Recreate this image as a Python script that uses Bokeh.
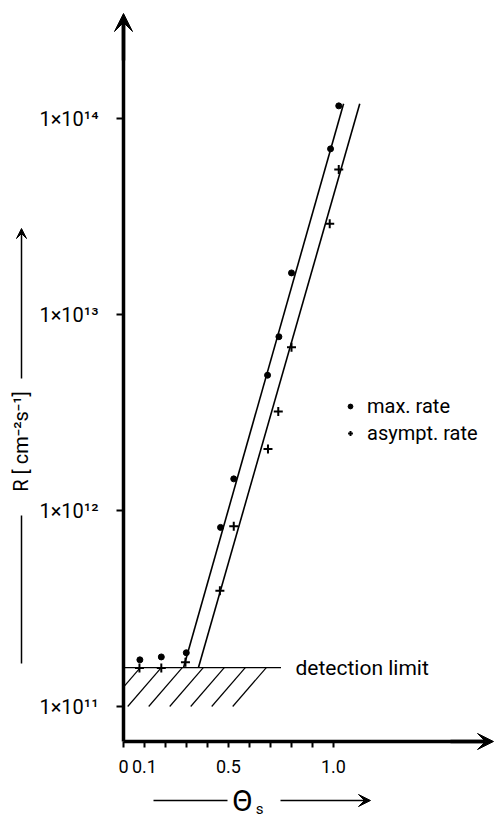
from math import pi

from bokeh.embed import file_html
from bokeh.models import (Arrow, FixedTicker, Label, Legend, LegendItem,
                          Range1d, VeeHead)
from bokeh.plotting import figure
from bokeh.resources import INLINE

# Reaction rate R versus surface coverage theta_s
theta_max = [0.078, 0.18, 0.299, 0.462, 0.525, 0.686, 0.74, 0.80, 0.986, 1.025]
rate_max = [1.73e11, 1.79e11, 1.88e11, 8.2e11, 1.45e12, 4.9e12, 7.7e12, 1.63e13, 7.0e13, 1.16e14]

theta_asym = [0.076, 0.18, 0.295, 0.459, 0.525, 0.688, 0.737, 0.80, 0.982, 1.025]
rate_asym = [1.57e11, 1.57e11, 1.68e11, 3.9e11, 8.3e11, 2.06e12, 3.2e12, 6.8e12, 2.9e13, 5.5e13]

# straight-line fits (log scale) starting at the detection limit
fit_theta_max = [0.286, 1.048]
fit_rate_max = [1.58e11, 1.19e14]
fit_theta_asym = [0.357, 1.125]
fit_rate_asym = [1.58e11, 1.19e14]

detection_limit = 1.58e11
detection_theta = [0.0, 0.75]
hatch_floor = 1e11

x_ticks = [0, 0.1, 0.2, 0.3, 0.4, 0.5, 0.6, 0.7, 0.8, 0.9, 1.0]
x_tick_labels = {0: "0", 0.1: "0.1", 0.2: "", 0.3: "", 0.4: "", 0.5: "0.5",
                 0.6: "", 0.7: "", 0.8: "", 0.9: "", 1.0: "1.0"}
y_ticks = [1e11, 1e12, 1e13, 1e14]
y_tick_labels = {1e11: "1×10¹¹", 1e12: "1×10¹²", 1e13: "1×10¹³", 1e14: "1×10¹⁴"}

FONT = "Roboto"
W, H = 494, 817
ORIGIN_X, ORIGIN_Y = 123, 741   # where the two axes cross
AXIS_TOP, AXIS_RIGHT = 13, 493  # arrow tips
PX_PER_THETA = 210.0
PX_PER_DECADE = 196.0
Y11_PX = 706.0  # pixel row of 1e11


def tx(px):
    return (px - ORIGIN_X) / PX_PER_THETA


def ty(py):
    return 10 ** (11 + (Y11_PX - py) / PX_PER_DECADE)


# the plot frame spans the whole canvas; axes sit at fixed locations
p = figure(width=W, height=H, y_axis_type="log",
           x_range=Range1d(tx(0), tx(W)),
           y_range=Range1d(ty(H), ty(0)),
           output_backend="svg", toolbar_location=None, min_border=0)
p.outline_line_color = None
p.grid.visible = False
p.background_fill_color = "white"
p.border_fill_color = "white"

for ax in (p.xaxis[0], p.yaxis[0]):
    ax.axis_line_width = 3.5
    ax.axis_line_color = "black"
    ax.major_tick_line_color = "black"
    ax.major_tick_line_width = 2
    ax.major_tick_in = 0
    ax.minor_tick_line_color = None
    ax.major_label_text_font = FONT
    ax.major_label_text_color = "black"

p.xaxis.fixed_location = ty(ORIGIN_Y)
p.xaxis.bounds = (0, tx(AXIS_RIGHT - 8))
p.xaxis.ticker = FixedTicker(ticks=x_ticks)
p.xaxis.major_label_overrides = x_tick_labels
p.xaxis.major_tick_out = 6
p.xaxis.major_label_standoff = 12
p.xaxis.major_label_text_font_size = "18px"

p.yaxis.fixed_location = 0
p.yaxis.bounds = (ty(ORIGIN_Y), ty(AXIS_TOP + 8))
p.yaxis.ticker = FixedTicker(ticks=y_ticks)
p.yaxis.major_label_overrides = y_tick_labels
p.yaxis.major_tick_out = 7
p.yaxis.major_label_standoff = 18
p.yaxis.major_label_text_font_size = "20px"

# arrow heads on the axes
p.add_layout(Arrow(end=VeeHead(size=18, fill_color="black", line_color="black"),
                   x_start=0, y_start=ty(60), x_end=0, y_end=ty(AXIS_TOP),
                   line_width=3.5, line_color="black"))
p.add_layout(Arrow(end=VeeHead(size=16, fill_color="black", line_color="black"),
                   x_start=tx(450), y_start=ty(ORIGIN_Y), x_end=tx(AXIS_RIGHT),
                   y_end=ty(ORIGIN_Y), line_width=3.5, line_color="black"))

# detection limit with hatched band below it
p.line(detection_theta, [detection_limit, detection_limit],
       line_color="black", line_width=1.2)
hx0 = [-0.08 + 0.1 * k for k in range(7)]
hx1 = [x + 0.16 for x in hx0]
hy0 = [hatch_floor] * 7
hy1 = [detection_limit] * 7
# clip the first stroke at theta = 0 (log-linear interpolation)
frac = (0 - hx0[0]) / (hx1[0] - hx0[0])
hy0[0] = hatch_floor * (detection_limit / hatch_floor) ** frac
hx0[0] = 0.0
p.segment(hx0, hy0, hx1, hy1, line_color="black", line_width=1.2)

p.add_layout(Label(x=tx(295), y=detection_limit, text="detection limit",
                   text_font=FONT, text_font_size="21px", text_color="black",
                   text_align="left", text_baseline="middle"))

# fitted lines
p.line(fit_theta_max, fit_rate_max, line_color="black", line_width=1.6)
p.line(fit_theta_asym, fit_rate_asym, line_color="black", line_width=1.6)

# measured points
r_max = p.scatter(theta_max, rate_max, marker="circle", size=6,
                  fill_color="black", line_color="black")
r_asym = p.scatter(theta_asym, rate_asym, marker="cross", size=9,
                   line_color="black", line_width=2)

legend = Legend(items=[LegendItem(label="max. rate", renderers=[r_max]),
                       LegendItem(label="asympt. rate", renderers=[r_asym])],
                location=(344, 372), orientation="vertical",
                glyph_width=12, glyph_height=20, label_height=20,
                label_standoff=11, spacing=3, padding=0, margin=0,
                border_line_color=None, background_fill_alpha=0,
                label_text_font=FONT, label_text_font_size="20px",
                label_text_color="black")
p.add_layout(legend)

# y-axis title with leader lines
p.add_layout(Label(x=tx(20), y=ty(441), text="R [ cm⁻²s⁻¹]", angle=pi / 2,
                   text_font=FONT, text_font_size="20px", text_color="black",
                   text_align="center", text_baseline="middle"))
p.add_layout(Arrow(end=VeeHead(size=10, fill_color="black", line_color="black"),
                   x_start=tx(21), y_start=ty(378), x_end=tx(21), y_end=ty(228),
                   line_width=1.5, line_color="black"))
p.add_layout(Arrow(end=None, x_start=tx(21), y_start=ty(515), x_end=tx(21),
                   y_end=ty(663), line_width=1.5, line_color="black"))

# x-axis title with leader lines
p.add_layout(Label(x=tx(242), y=ty(800), text="Θ", text_font=FONT,
                   text_font_size="30px", text_color="black",
                   text_align="center", text_baseline="middle"))
p.add_layout(Label(x=tx(259), y=ty(808), text="s", text_font=FONT,
                   text_font_size="15px", text_color="black",
                   text_align="center", text_baseline="middle"))
p.add_layout(Arrow(end=None, x_start=tx(153), y_start=ty(800), x_end=tx(227),
                   y_end=ty(800), line_width=1.5, line_color="black"))
p.add_layout(Arrow(end=VeeHead(size=12, fill_color="black", line_color="black"),
                   x_start=tx(280), y_start=ty(800), x_end=tx(370), y_end=ty(800),
                   line_width=1.5, line_color="black"))

open("out.html", "w").write(file_html(p, INLINE))
